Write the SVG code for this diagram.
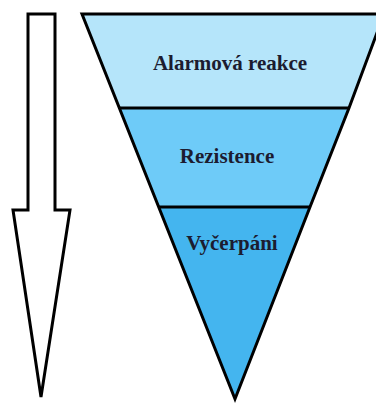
<svg xmlns="http://www.w3.org/2000/svg" width="376" height="405" viewBox="0 0 376 405">
<style>
.outline{fill:none;stroke:#000;stroke-width:3;stroke-linejoin:miter}
.lbl{font-family:"Liberation Serif","Times New Roman",serif;font-weight:bold;font-size:21px;fill:#1c1c30;text-anchor:middle}
</style>
<rect width="376" height="405" fill="#fff"/>
<g id="arrow">
<polygon class="outline" style="fill:#fff" points="28,14 55,14 55,210 70,210 41,397 13,210 28,210"/>
</g>
<g id="alarm">
<polygon fill="#B5E5FA" points="82,14 384,14 349,108 119.4,108"/>
<text class="lbl" x="230" y="70">Alarmová reakce</text>
</g>
<g id="rezistence">
<polygon fill="#6ECBF8" points="119.4,108 349,108 310,207 158.7,207"/>
<text class="lbl" x="227" y="163">Rezistence</text>
</g>
<g id="vycerpani">
<polygon fill="#44B5EF" points="158.7,207 310,207 235,399"/>
<text class="lbl" x="232" y="250">Vyčerpáni</text>
</g>
<g id="connectors">
<polygon class="outline" points="82,14 384,14 349,108 310,207 235,399"/>
<line class="outline" x1="119.4" y1="108" x2="349" y2="108"/>
<line class="outline" x1="158.7" y1="207" x2="310" y2="207"/>
</g>
</svg>
